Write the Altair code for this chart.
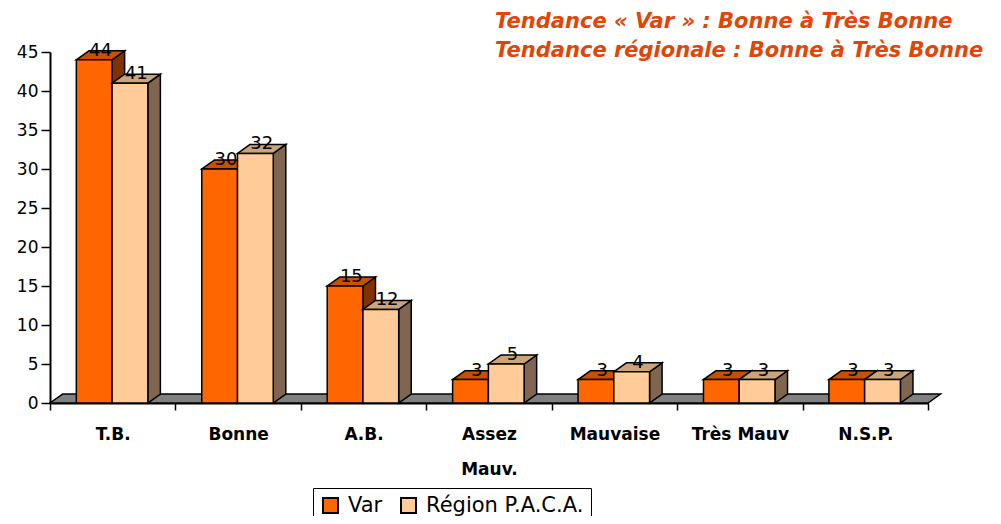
import altair as alt
import pandas as pd

categories = ["T.B.", "Bonne", "A.B.", "Assez Mauv.", "Mauvaise", "Très Mauv", "N.S.P."]
var_values = [44, 30, 15, 3, 3, 3, 3]
region_values = [41, 32, 12, 5, 4, 3, 3]
series_names = ["Var", "Région P.A.C.A."]
title_lines = ["Tendance « Var » : Bonne à Très Bonne", "Tendance régionale : Bonne à Très Bonne"]
y_ticks = [0, 5, 10, 15, 20, 25, 30, 35, 40, 45]

# 3D geometry (category units / value units)
BAR_START = 0.21
BAR_W = 0.285
DX = 0.1
DY = 1.15
N = len(categories)

front_rows, top_rows, side_rows = [], [], []
for i, cat in enumerate(categories):
    for s, (name, vals) in enumerate(zip(series_names, [var_values, region_values])):
        v = vals[i]
        x0 = i + BAR_START + s * BAR_W
        x1 = x0 + BAR_W
        bid = f"{i}-{s}"
        front_rows.append(dict(cat=cat, series=name, value=v, zero=0, x0=x0, x1=x1,
                               lx=(x0 + x1) / 2 + DX / 2, ly=v + DY))
        top_rows += [dict(series=name, id=bid, y=v, xa=x0, xb=x1),
                     dict(series=name, id=bid, y=v + DY, xa=x0 + DX, xb=x1 + DX)]
        side_rows += [dict(series=name, id=bid, x=x1, ya=0, yb=v),
                      dict(series=name, id=bid, x=x1 + DX, ya=DY, yb=v + DY)]

front_df = pd.DataFrame(front_rows)
top_df = pd.DataFrame(top_rows)
side_df = pd.DataFrame(side_rows)
floor_df = pd.DataFrame({"y": [0, DY], "xa": [0, DX], "xb": [N, N + DX]})

xq = alt.Scale(domain=[0, N], nice=False, zero=False)
yq = alt.Scale(domain=[0, 45], nice=False, zero=False)
y_axis = alt.Axis(title=None, values=y_ticks, tickSize=9, tickColor="black", tickWidth=1.5,
                  domainColor="black", domainWidth=2, labelFont="DejaVu Sans", labelFontSize=17,
                  labelColor="black", labelPadding=3, grid=False)


def Y(field):
    return alt.Y(field, scale=yq, axis=y_axis, stack=None)


def XQ(field):
    return alt.X(field, scale=xq, axis=None, stack=None)


colors = {
    "Var": dict(front="#FF6600", top="#C85000", side="#803300"),
    "Région P.A.C.A.": dict(front="#FFCC99", top="#CCA37A", side="#806650"),
}

floor = alt.Chart(floor_df).mark_area(orient="horizontal", fill="#808080", stroke="black",
                                      strokeWidth=1.5, opacity=1).encode(
    y=Y("y:Q"), x=XQ("xa:Q"), x2="xb:Q")

layers = [floor]
for name in series_names:
    c = colors[name]
    side = alt.Chart(side_df).transform_filter(alt.datum.series == name).mark_area(
        orient="vertical", fill=c["side"], stroke="black", strokeWidth=1.5, opacity=1).encode(
        x=XQ("x:Q"), y=Y("yb:Q"), y2="ya:Q", detail="id:N")
    top = alt.Chart(top_df).transform_filter(alt.datum.series == name).mark_area(
        orient="horizontal", fill=c["top"], stroke="black", strokeWidth=1.5, opacity=1).encode(
        y=Y("y:Q"), x=XQ("xa:Q"), x2="xb:Q", detail="id:N")
    front = alt.Chart(front_df).transform_filter(alt.datum.series == name).mark_rect(
        stroke="black", strokeWidth=1.5, opacity=1).encode(
        x=XQ("x0:Q"), x2="x1:Q", y=Y("value:Q"), y2="zero:Q",
        color=alt.Color("series:N", scale=alt.Scale(domain=series_names,
                                                     range=[colors[n]["front"] for n in series_names]),
                        legend=alt.Legend(title=None, orient="none", legendX=263, legendY=436,
                                          direction="horizontal", strokeColor="black", fillColor="white",
                                          padding=7, symbolType="square", symbolSize=225,
                                          symbolStrokeColor="black", symbolStrokeWidth=2,
                                          symbolOpacity=1, labelFont="DejaVu Sans", labelFontSize=21,
                                          labelLimit=400, labelColor="black", labelOffset=7,
                                          columnPadding=14)))
    layers += [side, top, front]

labels = alt.Chart(front_df).mark_text(font="DejaVu Sans", fontSize=18, color="black",
                                       baseline="middle", align="center").encode(
    x=XQ("lx:Q"), y=Y("ly:Q"), text="value:Q")
layers.append(labels)

band = alt.Chart(front_df).mark_bar(opacity=0).encode(
    x=alt.X("cat:N", sort=categories, scale=alt.Scale(type="band", paddingInner=0, paddingOuter=0),
            axis=alt.Axis(title=None, tickBand="extent", tickSize=7, tickColor="black", tickWidth=1.5,
                          domainColor="black", domainWidth=2, labelFont="DejaVu Sans", labelFontSize=17,
                          labelFontWeight="bold", labelColor="black", labelPadding=16,
                          labelLineHeight=35, labelAngle=0,
                          labelExpr="datum.label == 'Assez Mauv.' ? split(datum.label, ' ') : datum.label")),
    y=Y("value:Q"))
layers.append(band)

title = alt.Chart(alt.Data(values=[{"t": title_lines}])).mark_text(
    align="left", baseline="alphabetic", font="DejaVu Sans", fontSize=21, fontWeight="bold",
    fontStyle="italic", color="#E04606", lineHeight=29).encode(
    x=alt.value(445), y=alt.value(-24), text="t:N")
layers.append(title)

chart = alt.layer(*layers).resolve_scale(x="independent").properties(
    width=878, height=351,
    autosize=alt.AutoSizeParams(type="none"),
    padding={"left": 42, "top": 44, "right": 65, "bottom": 113},
).configure_view(stroke=None)

chart.save("out.html", embed_options={"renderer": "svg", "actions": False})
